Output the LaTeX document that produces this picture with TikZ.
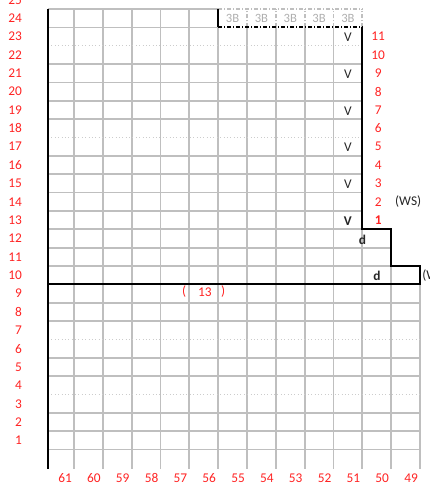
\documentclass[tikz,border=0pt]{standalone}
\usepackage{fontspec}
\setmainfont{Carlito}
\usepackage{xcolor}
\definecolor{Rejilla}{RGB}{191,191,191}
\definecolor{Rojo}{RGB}{255,35,35}
\definecolor{Gris3B}{RGB}{175,175,175}
\usetikzlibrary{calc, positioning}

\begin{document}
\begin{tikzpicture}[x=0.7208cm, y=0.459cm,
  rej/.style={draw=Rejilla, line width=1.2pt},
  punt/.style={draw=Rejilla!80, line width=0.4pt, dotted},
  rejdd/.style={draw=Rejilla, line width=1.2pt,
    dash pattern=on 3pt off 1.2pt on 1pt off 1.2pt},
  borde/.style={draw=black, line width=1.5pt},
  bordedd/.style={draw=black, line width=1.5pt,
    dash pattern=on 3pt off 1.2pt on 1pt off 1.2pt},
  num/.style={text=Rojo, font=\fontsize{9.5}{11}\selectfont, inner sep=0pt},
  tres/.style={text=Gris3B, font=\fontsize{9}{10}\selectfont, inner sep=0pt},
  marca/.style={text=black!85, font=\fontsize{9.5}{11}\selectfont, inner sep=0pt}
]
\useasboundingbox (-2.567,-0.926) rectangle (12.314,25.49);

%% ── Rejilla: verticales ──────────────────────────────────────────────
\foreach \c in {0,...,4} \draw[rej] (\c,-0.05) -- (\c,25);
\foreach \c in {5,...,9} \draw[rej] (\c,-0.05) -- (\c,24);
\draw[rej] (10,-0.05) -- (10,13);
\draw[rej] (11,-0.05) -- (11,11);
\draw[rej] (12,-0.05) -- (12,10);
\foreach \c in {6,...,10} \draw[rejdd] (\c,24) -- (\c,25);

%% ── Rejilla: horizontales ────────────────────────────────────────────
\foreach \r in {1,2,3,5,6,8,9} \draw[rej] (-0.9,\r) -- (12,\r);
\foreach \r in {4,7} \draw[punt] (-0.9,\r) -- (12,\r);
\foreach \r in {11,12} \draw[rej] (-0.9,\r) -- (11,\r);
\foreach \r in {13,14,15,16,17,19,20,21,22} \draw[rej] (-0.9,\r) -- (10,\r);
\foreach \r in {18,23} \draw[punt] (-0.9,\r) -- (10,\r);
\draw[rej] (-0.9,24) -- (5,24);
\draw[rej] (-0.9,25) -- (5,25);
\draw[rejdd] (5,25) -- (10,25);

%% ── Contorno ─────────────────────────────────────────────────────────
\draw[borde] (-0.9,-0.05) -- (-0.9,25);
\draw[borde] (5,25) -- (5,24);
\draw[bordedd] (5,24) -- (10,24);
\draw[borde] (10,24) -- (10,13) -- (11,13) -- (11,11) -- (12,11)
  -- (12,10) -- (-0.9,10);

%% ── Numeracion de filas y columnas ───────────────────────────────────
\foreach \n in {1,...,25}
  \node[num, anchor=east] (F\n) at (-1.8, \n+0.5) {\n};
\foreach \m [evaluate=\m as \col using int(61-\m)] in {0,...,12}
  \node[num] (C\col) at (\m-0.31, -0.54) {\col};
\foreach \k in {2,...,11}
  \node[num] (R\k) at (10.55, 12.5+\k) {\k};
\node[num, font=\fontsize{9.5}{11}\selectfont\bfseries] (R1) at (10.55, 13.5) {1};

%% ── Celdas 3B ────────────────────────────────────────────────────────
\foreach \c in {5,...,9}
  \node[tres] (B\c) at (\c+0.5, 24.5) {3B};

%% ── Marcas V y d ─────────────────────────────────────────────────────
\foreach \r in {15,17,19,21,23}
  \node[marca] (V\r) at (9.5, \r+0.45) {V};
\node[marca, font=\fontsize{9.5}{11}\selectfont\bfseries] (V13) at (9.5, 13.45) {V};
\node[marca, font=\fontsize{9.5}{11}\selectfont\bfseries] (D1) at (10.0, 12.42) {d};
\node[marca, font=\fontsize{9.5}{11}\selectfont\bfseries] (D2) at (10.51, 10.46) {d};

%% ── Rotulos ──────────────────────────────────────────────────────────
\node[marca] (WS) at (11.59, 14.5) {(WS)};
\node[marca, anchor=west] (WS2) at (12.07, 10.5) {(WS)};
\node[num] (PA) at (3.82, 9.6) {(};
\node[num] (N13) at (4.54, 9.6) {13};
\node[num] (PC) at (5.17, 9.6) {)};

\end{tikzpicture}
\end{document}
